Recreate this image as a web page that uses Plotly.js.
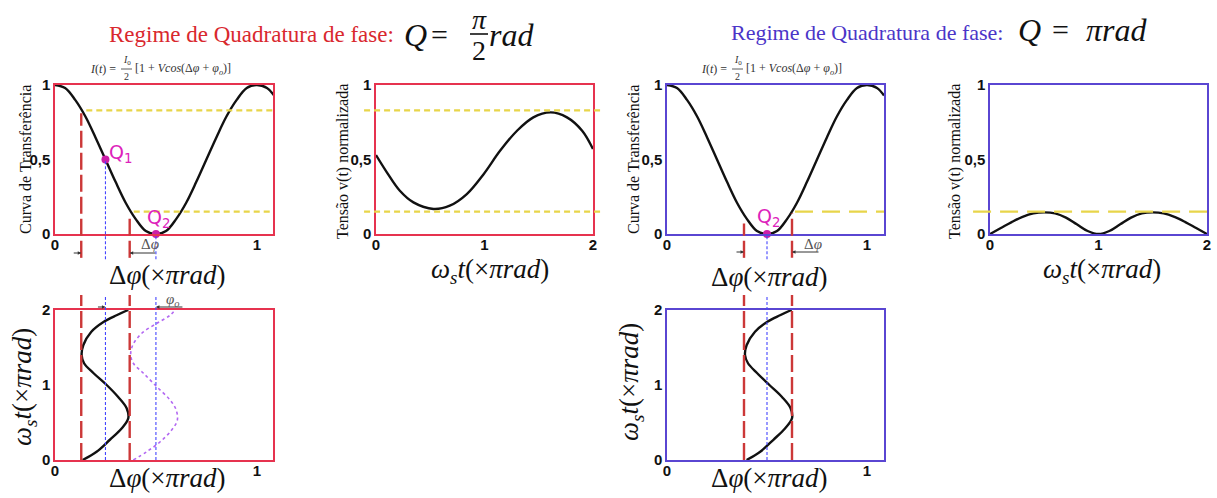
<!DOCTYPE html>
<html>
<head>
<meta charset="utf-8">
<script src="https://cdn.plot.ly/plotly-3.0.1.min.js"></script>
<style>
  html, body { margin: 0; padding: 0; background: #ffffff; }
  #fig { width: 1217px; height: 498px; }
</style>
</head>
<body>
<div id="fig"></div>
<script>
// ---------- data (phase in units of pi rad) ----------
// Interferometer transfer curve: normalised intensity vs phase difference
const phaseGrid = [0, 0.05, 0.1, 0.15, 0.2, 0.25, 0.3, 0.35, 0.4, 0.45, 0.5, 0.55, 0.6, 0.65, 0.7, 0.75, 0.8, 0.85, 0.9, 0.95, 1.0, 1.05, 1.085];
const transferCurve = [1, 0.98, 0.9, 0.79, 0.65, 0.5, 0.35, 0.21, 0.1, 0.02, 0, 0.02, 0.1, 0.21, 0.35, 0.5, 0.65, 0.79, 0.9, 0.98, 1, 0.98, 0.93];

// Operating points
const q1Phase = 0.25, q1Level = 0.5;
const q2Phase = 0.5,  q2Level = 0;
const phaseOffset = 0.5;           // phi_o marker line

// Phase excursion limits around each operating point
const swingQuad = [0.13, 0.37];
const swingPi   = [0.385, 0.625];
// Output levels reached at the excursion limits
const levelHigh = 0.83, levelLow = 0.15;

// Normalised output voltage, quadrature bias (Q = pi/2)
const tQuad = [0, 0.1, 0.22, 0.345, 0.53, 0.68, 0.837, 0.99, 1.145, 1.3, 1.45, 1.61, 1.76, 1.9, 2.0];
const vQuad = [0.53, 0.414, 0.29, 0.212, 0.168, 0.19, 0.268, 0.40, 0.56, 0.693, 0.783, 0.816, 0.783, 0.693, 0.57];

// Normalised output voltage, bias at Q = pi
const tPi = [0, 0.1, 0.2, 0.3, 0.4, 0.5, 0.6, 0.7, 0.8, 0.9, 1.0, 1.1, 1.2, 1.3, 1.4, 1.5, 1.6, 1.7, 1.8, 1.9, 2.0];
const vPi = [0, 0.04, 0.08, 0.115, 0.138, 0.145, 0.138, 0.11, 0.065, 0.02, 0, 0.02, 0.065, 0.11, 0.138, 0.145, 0.138, 0.115, 0.08, 0.04, 0];

// Phase modulation vs time (omega_s t)
const tMod      = [0, 0.11, 0.27, 0.42, 0.556, 0.69, 0.84, 1.0, 1.16, 1.29, 1.40, 1.53, 1.71, 1.84, 1.93, 2.0];
const phiModQ   = [0.137, 0.206, 0.272, 0.33, 0.363, 0.355, 0.313, 0.256, 0.19, 0.144, 0.132, 0.14, 0.18, 0.24, 0.305, 0.363];
const phiModPi  = [0.398, 0.466, 0.532, 0.59, 0.625, 0.618, 0.575, 0.512, 0.45, 0.405, 0.39, 0.398, 0.44, 0.50, 0.565, 0.623];
// Same modulation shifted by phi_o
const tModShift   = [0, 0.11, 0.24, 0.40, 0.53, 0.67, 0.80, 0.98, 1.16, 1.29, 1.40, 1.53, 1.69, 1.82, 1.93, 2.02];
const phiModShift = [0.388, 0.454, 0.52, 0.578, 0.606, 0.60, 0.57, 0.503, 0.437, 0.388, 0.375, 0.385, 0.43, 0.503, 0.57, 0.60];

// Tick labels
const phaseTicks = [0, 1];
const timeTicks = [0, 1, 2];
const levelTicks = [0, 0.5, 1];
const levelTickText = ['0', '0,5', '1'];

// ---------- styling ----------
const W = 1217, H = 498;
const hx = p => p / W;          // horizontal pixel -> paper
const vy = p => 1 - p / H;      // vertical pixel -> paper

const RED_BOX = '#e6334f', BLUE_BOX = '#5a46d2';
const RED_TITLE = '#d9282e', BLUE_TITLE = '#4b35c8';
const GUIDE_RED = '#cc3838', YELLOW = '#e8d54a', THIN_BLUE = '#4646ff';
const MAGENTA = '#cc1ea8', Q_TEXT = '#dd22bb';
const SERIF = '"Liberation Serif", "DejaVu Serif", serif';

function axis(domain, range, tickvals, ticktext, color, anchor, isX) {
  const a = {
    domain, range, tickvals, ticktext, anchor,
    showline: true, mirror: true, linecolor: color, linewidth: 1.6,
    showgrid: false, zeroline: false, ticks: '', fixedrange: true,
    tickfont: { family: 'Liberation Sans', size: 15, weight: 'bold', color: '#111' }
  };
  if (isX) a.ticklabelstandoff = -4;
  return a;
}

const topRow = [vy(234), vy(85)];
const botRow = [vy(460), vy(310)];

const layout = {
  width: W, height: H,
  margin: { l: 0, r: 0, t: 0, b: 0 },
  paper_bgcolor: '#ffffff', plot_bgcolor: '#ffffff',
  showlegend: false,
  xaxis:  axis([hx(55), hx(273)],  [0, 1.08], phaseTicks, null, RED_BOX, 'y', true),
  yaxis:  axis(topRow, [0, 1], levelTicks, levelTickText, RED_BOX, 'x'),
  xaxis2: axis([hx(376), hx(593)], [0, 2], timeTicks, null, RED_BOX, 'y2', true),
  yaxis2: axis(topRow, [0, 1], levelTicks, levelTickText, RED_BOX, 'x2'),
  xaxis3: axis([hx(55), hx(273)],  [0, 1.08], phaseTicks, null, RED_BOX, 'y3', true),
  yaxis3: axis(botRow, [0, 2], timeTicks, null, RED_BOX, 'x3'),
  xaxis4: axis([hx(667), hx(884)], [0, 1.085], phaseTicks, null, BLUE_BOX, 'y4', true),
  yaxis4: axis(topRow, [0, 1], levelTicks, levelTickText, BLUE_BOX, 'x4'),
  xaxis5: axis([hx(990), hx(1207)], [0, 2], timeTicks, null, BLUE_BOX, 'y5', true),
  yaxis5: axis(topRow, [0, 1], levelTicks, levelTickText, BLUE_BOX, 'x5'),
  xaxis6: axis([hx(667), hx(884)], [0, 1.085], phaseTicks, null, BLUE_BOX, 'y6', true),
  yaxis6: axis(botRow, [0, 2], timeTicks, null, BLUE_BOX, 'x6'),
  shapes: [],
  annotations: []
};

// ---------- traces ----------
const blackLine = { color: '#111', width: 2.4, shape: 'spline' };
const traces = [
  { x: phaseGrid, y: transferCurve, xaxis: 'x', yaxis: 'y', mode: 'lines', line: blackLine },
  { x: tQuad, y: vQuad, xaxis: 'x2', yaxis: 'y2', mode: 'lines', line: blackLine },
  { x: phiModShift, y: tModShift, xaxis: 'x3', yaxis: 'y3', mode: 'lines',
    line: { color: '#b368f2', width: 1.6, dash: 'dot', shape: 'spline' } },
  { x: phiModQ, y: tMod, xaxis: 'x3', yaxis: 'y3', mode: 'lines', line: blackLine },
  { x: phaseGrid, y: transferCurve, xaxis: 'x4', yaxis: 'y4', mode: 'lines', line: blackLine },
  { x: tPi, y: vPi, xaxis: 'x5', yaxis: 'y5', mode: 'lines', line: blackLine },
  { x: phiModPi, y: tMod, xaxis: 'x6', yaxis: 'y6', mode: 'lines', line: blackLine },
  { x: [q1Phase, q2Phase], y: [q1Level, q2Level], xaxis: 'x', yaxis: 'y', mode: 'markers',
    cliponaxis: false, marker: { color: MAGENTA, size: 8 } },
  { x: [q2Phase], y: [q2Level], xaxis: 'x4', yaxis: 'y4', mode: 'markers',
    cliponaxis: false, marker: { color: MAGENTA, size: 8 } }
];

// ---------- guide lines ----------
const S = layout.shapes;
function vGuide(ax, x, y0, y1, color, width, dash) {
  const yax = ax === 'x' ? 'y' : 'y' + ax.slice(1);
  S.push({ type: 'line', xref: ax, yref: yax + ' domain', x0: x, x1: x, y0, y1,
           line: { color, width, dash }, layer: 'above' });
}
const redDash = '17px,5px', thinDash = '3px,2px';

// Quadrature: transfer panel
vGuide('x', swingQuad[0], -0.16, 0.81, GUIDE_RED, 2.4, redDash);
vGuide('x', swingQuad[1], -0.16, 0.13, GUIDE_RED, 2.4, redDash);
vGuide('x', q1Phase, -0.17, q1Level, THIN_BLUE, 1.1, thinDash);
vGuide('x', q2Phase, -0.17, q2Level, THIN_BLUE, 1.1, thinDash);
// Quadrature: modulation panel
vGuide('x3', swingQuad[0], 0, 1.1, GUIDE_RED, 2.4, redDash);
vGuide('x3', swingQuad[1], 0, 1.1, GUIDE_RED, 2.4, redDash);
vGuide('x3', q1Phase, 0, 1.1, THIN_BLUE, 1.1, thinDash);
vGuide('x3', phaseOffset, 0, 1.1, THIN_BLUE, 1.1, thinDash);
// Pi bias: transfer panel
vGuide('x4', swingPi[0], -0.16, 0.07, GUIDE_RED, 2.4, redDash);
vGuide('x4', swingPi[1], -0.16, 0.14, GUIDE_RED, 2.4, redDash);
vGuide('x4', q2Phase, -0.17, q2Level, THIN_BLUE, 1.1, thinDash);
// Pi bias: modulation panel
vGuide('x6', swingPi[0], 0, 1.1, GUIDE_RED, 2.4, redDash);
vGuide('x6', swingPi[1], 0, 1.1, GUIDE_RED, 2.4, redDash);
vGuide('x6', q2Phase, 0, 1.1, THIN_BLUE, 1.1, thinDash);

// Output level lines (yellow)
const shortDash = '6px,4px', longDash = '18px,9px';
S.push({ type: 'line', xref: 'x', yref: 'y', x0: 0.155, x1: 1.08, y0: levelHigh, y1: levelHigh,
         line: { color: YELLOW, width: 2.4, dash: shortDash } });
S.push({ type: 'line', xref: 'x', yref: 'y', x0: 0.39, x1: 1.08, y0: levelLow, y1: levelLow,
         line: { color: YELLOW, width: 2.4, dash: shortDash } });
S.push({ type: 'line', xref: 'x2 domain', yref: 'y2', x0: -0.055, x1: 1.046, y0: levelHigh, y1: levelHigh,
         line: { color: YELLOW, width: 2.4, dash: shortDash } });
S.push({ type: 'line', xref: 'x2 domain', yref: 'y2', x0: -0.055, x1: 1.046, y0: levelLow, y1: levelLow,
         line: { color: YELLOW, width: 2.4, dash: shortDash } });
S.push({ type: 'line', xref: 'x4', yref: 'y4', x0: 0.64, x1: 1.085, y0: levelLow, y1: levelLow,
         line: { color: YELLOW, width: 2.4, dash: longDash } });
S.push({ type: 'line', xref: 'x5 domain', yref: 'y5', x0: -0.078, x1: 1.0, y0: levelLow, y1: levelLow,
         line: { color: YELLOW, width: 2.4, dash: longDash } });

// Fraction bars for the typeset formulas
function bar(x0, x1, y, color, width) {
  S.push({ type: 'line', xref: 'paper', yref: 'paper', x0: hx(x0), x1: hx(x1), y0: vy(y), y1: vy(y),
           line: { color, width } });
}
bar(470, 488, 34, '#111', 1.6);
bar(121, 132, 69, '#333', 0.8);
bar(732, 743, 69, '#333', 0.8);

// ---------- text ----------
const A = layout.annotations;
function txt(x, y, text, size, color, opts) {
  A.push(Object.assign({ xref: 'paper', yref: 'paper', x: hx(x), y: vy(y), text,
    showarrow: false, xanchor: 'center', yanchor: 'middle',
    font: { family: SERIF, size, color } }, opts || {}));
}

// Headings
txt(251, 35, 'Regime de Quadratura de fase:', 23, RED_TITLE);
txt(415, 35, '<i>Q</i>', 32, '#111');
txt(440, 35, '=', 30, '#111');
txt(479, 19, '<i>π</i>', 28, '#111');
txt(479, 51, '2', 28, '#111');
txt(511, 35, '<i>rad</i>', 32, '#111');

txt(867, 32, 'Regime de Quadratura de fase:', 22, BLUE_TITLE);
txt(1029, 30, '<i>Q</i>', 32, '#111');
txt(1060, 30, '=', 30, '#111');
txt(1116, 30, '<i>πrad</i>', 32, '#111');

// Intensity formula above each transfer panel
function formula(dx) {
  txt(118 + dx, 69, '<i>I</i>(<i>t</i>) =', 12, '#333', { xanchor: 'right' });
  txt(126.5 + dx, 61, '<i>I</i><sub>0</sub>', 10, '#333');
  txt(126.5 + dx, 76, '2', 10, '#333');
  txt(133 + dx, 69, '[1 + <i>Vcos</i>(Δ<i>φ</i> + <i>φ<sub>o</sub></i>)]', 12, '#333', { xanchor: 'left' });
}
formula(0);
formula(611);

// Axis titles
const dphiTitle = 'Δ<i>φ</i>(×<i>πrad</i>)';
const wtTitle = '<i>ω<sub>s</sub>t</i>(×<i>πrad</i>)';
txt(167, 275, dphiTitle, 27, '#111');
txt(167, 478, dphiTitle, 27, '#111');
txt(769, 277, dphiTitle, 27, '#111');
txt(769, 478, dphiTitle, 27, '#111');
txt(490, 271, wtTitle, 27, '#111');
txt(1102, 271, wtTitle, 27, '#111');
txt(24, 387, wtTitle, 27, '#111', { textangle: -90 });
txt(631, 382, wtTitle, 27, '#111', { textangle: -90 });
txt(25, 160, 'Curva de Transferência', 16, '#111', { textangle: -90 });
txt(633, 160, 'Curva de Transferência', 16, '#111', { textangle: -90 });
txt(343, 162, 'Tensão v(t) normalizada', 16, '#111', { textangle: -90 });
txt(955, 162, 'Tensão v(t) normalizada', 16, '#111', { textangle: -90 });

// Operating point labels
function qLabel(xref, yref, x, y, label, xs, ys) {
  A.push({ xref, yref, x, y, text: 'Q<sub>' + label + '</sub>', showarrow: false,
    xanchor: 'left', yanchor: 'middle', xshift: xs, yshift: ys,
    font: { family: 'DejaVu Sans', size: 19, color: Q_TEXT } });
}
qLabel('x', 'y', q1Phase, q1Level, '1', 2, 6);
qLabel('x', 'y', q2Phase, q2Level, '2', -11, 16);
qLabel('x4', 'y4', q2Phase, q2Level, '2', -12, 17);

// Small arrows marking the excursion and the offset
function arrow(xref, x, yPix, dx) {
  A.push({ xref, yref: 'paper', x, y: vy(yPix), ax: dx, ay: 0, text: '',
    showarrow: true, arrowhead: 2, arrowsize: 0.7, arrowwidth: 1, arrowcolor: '#333' });
}
arrow('x', swingQuad[0], 253, -9);
arrow('x', swingQuad[1], 253, 27);
arrow('x3', q1Phase, 307, -9);
arrow('x3', phaseOffset, 307, 28);
arrow('x4', swingPi[0], 252, -9);
arrow('x4', swingPi[1], 252, 28);
txt(150, 244, 'Δ<i>φ</i>', 15, '#555');
txt(173, 300, '<i>φ<sub>o</sub></i>', 15, '#555');
txt(813, 244, 'Δ<i>φ</i>', 15, '#555');

Plotly.newPlot('fig', traces, layout, { staticPlot: true, displayModeBar: false });
</script>
</body>
</html>
